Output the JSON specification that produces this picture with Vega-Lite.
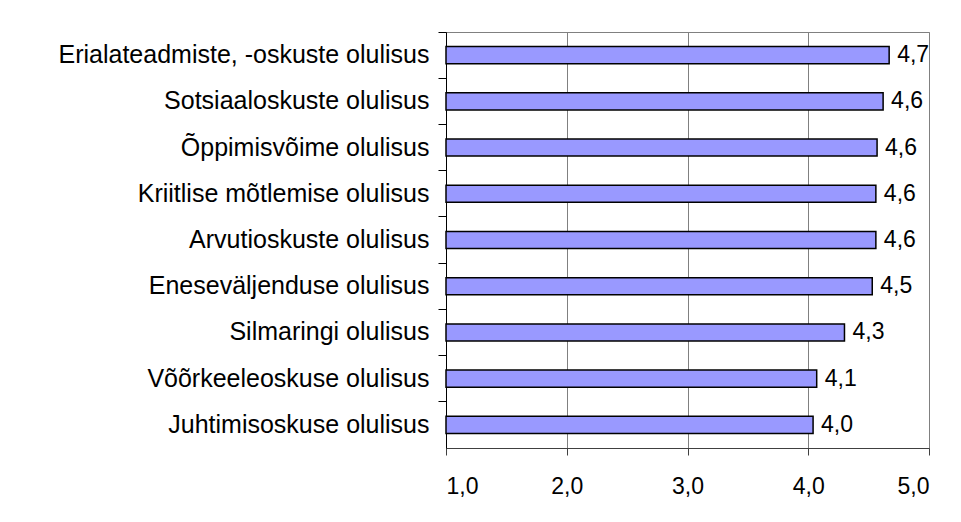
{
  "$schema": "https://vega.github.io/schema/vega-lite/v6.json",
  "width": 483,
  "height": 416,
  "autosize": "none",
  "padding": {"left": 446, "top": 32, "right": 32, "bottom": 74},
  "background": "white",
  "config": {
    "locale": {"number": {"decimal": ",", "thousands": " ", "grouping": [3], "currency": ["", " €"]}},
    "view": {"stroke": "#808080", "strokeWidth": 1},
    "font": "Liberation Sans"
  },
  "data": {
    "values": [
      {"label": "Erialateadmiste, -oskuste olulisus", "v": 4.67},
      {"label": "Sotsiaaloskuste olulisus", "v": 4.62},
      {"label": "Õppimisvõime olulisus", "v": 4.57},
      {"label": "Kriitlise mõtlemise olulisus", "v": 4.56},
      {"label": "Arvutioskuste olulisus", "v": 4.56},
      {"label": "Eneseväljenduse olulisus", "v": 4.53},
      {"label": "Silmaringi olulisus", "v": 4.30},
      {"label": "Võõrkeeleoskuse olulisus", "v": 4.07},
      {"label": "Juhtimisoskuse olulisus", "v": 4.04}
    ]
  },
  "encoding": {
    "y": {
      "field": "label", "type": "nominal", "sort": null, "title": null,
      "scale": {"paddingInner": 0.63, "paddingOuter": 0.315},
      "axis": {
        "labelFontSize": 25, "labelColor": "black", "labelPadding": 9,
        "tickSize": 8, "tickColor": "black", "domainColor": "black",
        "labelLimit": 440, "bandPosition": -0.85
      }
    }
  },
  "layer": [
    {
      "mark": {"type": "bar", "fill": "#9999FF", "stroke": "black", "strokeWidth": 1.5},
      "encoding": {
        "x": {
          "field": "v", "type": "quantitative", "title": null,
          "scale": {"domain": [1, 5], "zero": false, "nice": false},
          "axis": {
            "values": [1, 2, 3, 4, 5], "format": ".1f",
            "labelFontSize": 23, "labelColor": "black", "labelPadding": 20,
            "tickSize": 7, "tickColor": "#404040", "domainColor": "#404040",
            "gridColor": "#808080", "gridOpacity": 1, "gridWidth": 1
          }
        },
        "x2": {"datum": 1}
      }
    },
    {
      "mark": {"type": "text", "align": "left", "baseline": "middle", "dx": 8, "fontSize": 23, "color": "black"},
      "encoding": {
        "x": {"field": "v", "type": "quantitative"},
        "text": {"field": "v", "type": "quantitative", "format": ".1f"}
      }
    }
  ]
}
